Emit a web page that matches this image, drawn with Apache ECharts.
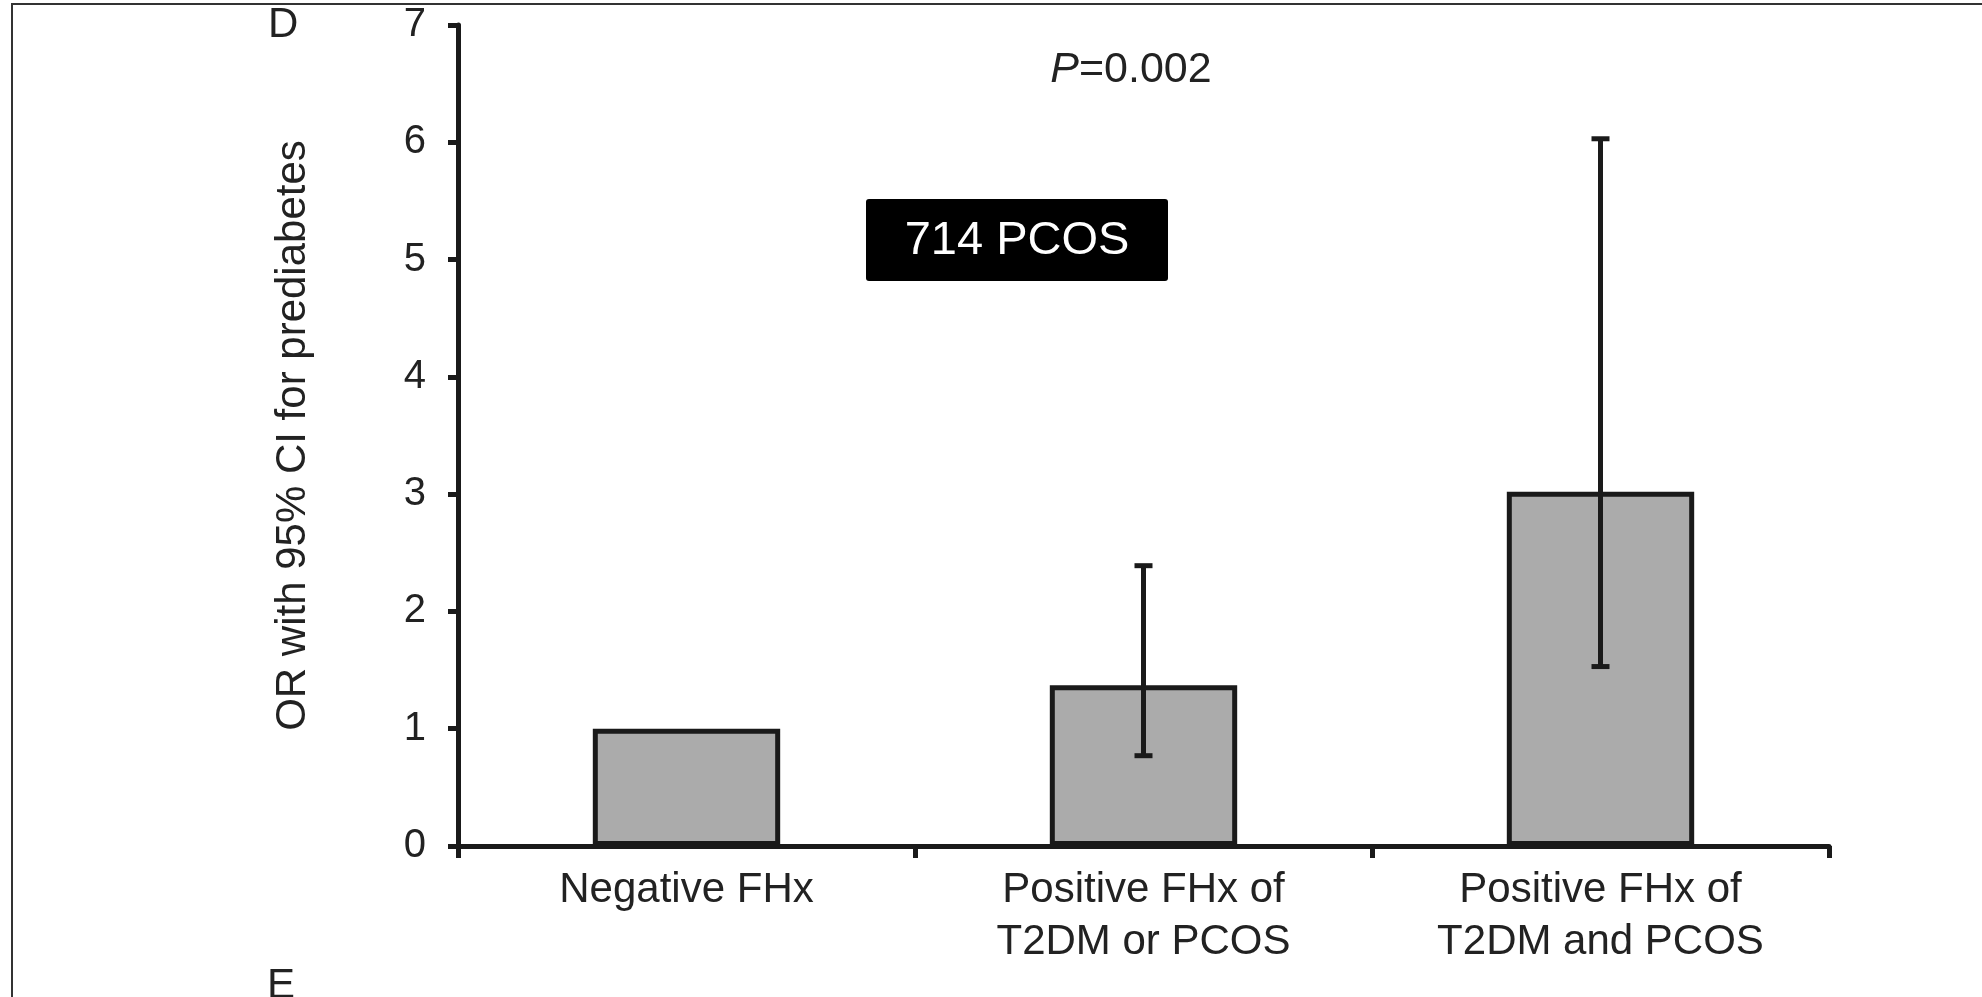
<!DOCTYPE html>
<html>
<head>
<meta charset="utf-8">
<script src="https://cdn.jsdelivr.net/npm/echarts@6/dist/echarts.min.js"></script>
<style>
  html, body { margin: 0; padding: 0; background: #fff; }
  #chart { width: 1982px; height: 997px; }
</style>
</head>
<body>
<div id="chart"></div>
<script>
// 各组的类别、OR 值和 95% CI
const categories = ['Negative FHx', 'Positive FHx of\nT2DM or PCOS', 'Positive FHx of\nT2DM and PCOS']
const orValues = [1.0, 1.37, 3.02]
const ciLower = [null, 0.77, 1.53]
const ciUpper = [null, 2.39, 6.03]
const yTicks = [0, 1, 2, 3, 4, 5, 6, 7]

const ink = '#1a1a1a'
const font = "'Liberation Sans', Arial, sans-serif"

const errorData = []
for (let i = 0; i < categories.length; i++) {
  if (ciLower[i] !== null) errorData.push([i, ciLower[i], ciUpper[i]])
}

const chart = echarts.init(document.getElementById('chart'))
const option = {
  animation: false,
  textStyle: { fontFamily: font },
  grid: { left: 458, right: 153, top: 25, bottom: 151 },
  xAxis: {
    type: 'category',
    data: categories,
    axisLine: { lineStyle: { color: ink, width: 5 } },
    axisTick: { show: true, length: 12, lineStyle: { color: ink, width: 5 } },
    axisLabel: {
      interval: 0,
      margin: 18,
      color: '#222',
      fontSize: 42,
      lineHeight: 52,
      fontFamily: font,
    },
  },
  yAxis: {
    type: 'value',
    min: yTicks[0],
    max: yTicks[yTicks.length - 1],
    interval: 1,
    name: 'OR with 95% CI for prediabetes',
    nameLocation: 'middle',
    nameGap: 144,
    nameTextStyle: { color: '#222', fontSize: 42, fontFamily: font },
    axisLine: { show: true, lineStyle: { color: ink, width: 5 } },
    axisTick: { show: true, length: 10, lineStyle: { color: ink, width: 5 } },
    axisLabel: { margin: 32, color: '#222', fontSize: 40, fontFamily: font },
    splitLine: { show: false },
  },
  series: [
    {
      type: 'bar',
      data: orValues,
      barWidth: '41%',
      itemStyle: { color: '#ababab', borderColor: ink, borderWidth: 5 },
      z: 2,
    },
    {
      type: 'custom',
      data: errorData,
      encode: { x: 0, y: [1, 2] },
      z: 5,
      renderItem: function (params, api) {
        const x = api.value(0)
        const lo = api.coord([x, api.value(1)])
        const hi = api.coord([x, api.value(2)])
        const half = 9
        const style = { stroke: ink, lineWidth: 5 }
        return {
          type: 'group',
          children: [
            { type: 'line', shape: { x1: hi[0], y1: hi[1], x2: lo[0], y2: lo[1] }, style: style },
            { type: 'line', shape: { x1: hi[0] - half, y1: hi[1], x2: hi[0] + half, y2: hi[1] }, style: style },
            { type: 'line', shape: { x1: lo[0] - half, y1: lo[1], x2: lo[0] + half, y2: lo[1] }, style: style },
          ],
        }
      },
    },
  ],
  graphic: [
    {
      type: 'rect',
      shape: { x: 12, y: 4, width: 2200, height: 1200 },
      style: { fill: 'none', stroke: '#333', lineWidth: 2 },
      silent: true,
    },
    {
      type: 'text',
      left: 268,
      top: 4,
      style: { text: 'D', fontSize: 42, fill: '#222', fontFamily: font },
    },
    {
      type: 'text',
      left: 267,
      top: 965,
      style: { text: 'E', fontSize: 42, fill: '#222', fontFamily: font },
    },
    {
      type: 'text',
      x: 1131,
      y: 70,
      style: {
        text: '{i|P}=0.002',
        fontSize: 43,
        fill: '#222',
        fontFamily: font,
        align: 'center',
        verticalAlign: 'middle',
        rich: { i: { fontStyle: 'italic', fontSize: 43, fontFamily: font, fill: '#222' } },
      },
    },
    {
      type: 'rect',
      shape: { x: 866, y: 199, width: 302, height: 82, r: 3 },
      style: { fill: '#000' },
    },
    {
      type: 'text',
      x: 1017,
      y: 241,
      z: 10,
      style: {
        text: '714 PCOS',
        fontSize: 47,
        fill: '#fff',
        fontFamily: font,
        align: 'center',
        verticalAlign: 'middle',
      },
    },
  ],
}
option && chart.setOption(option)
window.onresize = () => chart.resize()
</script>
</body>
</html>
